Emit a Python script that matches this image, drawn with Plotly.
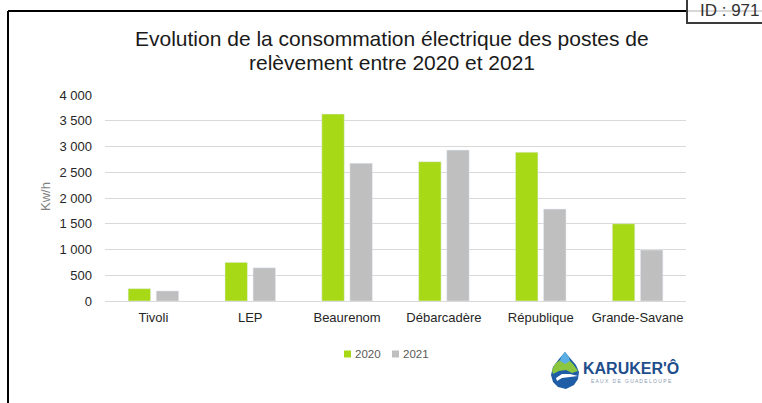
import plotly.graph_objects as go

categories = ["Tivoli", "LEP", "Beaurenom", "Débarcadère", "République", "Grande-Savane"]
values_2020 = [240, 750, 3630, 2705, 2890, 1500]
values_2021 = [195, 645, 2675, 2930, 1785, 990]
series_names = ["2020", "2021"]
series_colors = ["#a8d916", "#bfbfbf"]
y_ticks = [0, 500, 1000, 1500, 2000, 2500, 3000, 3500, 4000]
y_tick_labels = ["0", "500", "1 000", "1 500", "2 000", "2 500", "3 000", "3 500", "4 000"]

W, H = 762, 403
L, R, T, B = 105, 686, 95, 301

def px(x):
    return (x - L) / (R - L)

def py(y):
    return (B - y) / (B - T)

fig = go.Figure()
for name, vals, col in zip(series_names, [values_2020, values_2021], series_colors):
    fig.add_trace(go.Bar(name=name, x=categories, y=vals, marker_color=col))

font_family = "Liberation Sans, Arial, sans-serif"

shapes = []
# frame lines
shapes.append(dict(type="line", xref="paper", yref="paper", x0=px(8), x1=px(687), y0=py(11), y1=py(11),
                   line=dict(color="#000000", width=2)))
shapes.append(dict(type="line", xref="paper", yref="paper", x0=px(8), x1=px(8), y0=py(11), y1=py(405),
                   line=dict(color="#000000", width=2)))
# ID box
shapes.append(dict(type="rect", xref="paper", yref="paper", x0=px(687), x1=px(765), y0=py(-2), y1=py(23),
                   line=dict(color="#3a3a3a", width=2), fillcolor="#ffffff"))
shapes.append(dict(type="line", xref="paper", yref="paper", x0=px(688), x1=px(762), y0=py(11), y1=py(11),
                   line=dict(color="#b0b0b0", width=1)))

# logo drop
def pth(points):
    s = "M " + " L ".join(f"{px(x):.5f},{py(y):.5f}" for x, y in points) + " Z"
    return s

drop = [(565, 352), (570, 358), (576, 365), (579, 372), (578, 379), (574, 385), (566, 389), (558, 387),
        (553, 382), (551, 375), (553, 367), (559, 359)]
shapes.append(dict(type="path", xref="paper", yref="paper", path=pth(drop), fillcolor="#1f5ea6", line=dict(width=0)))
green = [(565, 356), (573, 364), (578, 371), (572, 373), (566, 370), (559, 371), (553, 374), (552, 370),
         (555, 364)]
shapes.append(dict(type="path", xref="paper", yref="paper", path=pth(green), fillcolor="#8cc63f", line=dict(width=0)))
lightb = [(565, 352), (569, 357), (570, 361), (565, 364), (560, 361), (561, 357)]
shapes.append(dict(type="path", xref="paper", yref="paper", path=pth(lightb), fillcolor="#5aaee3", line=dict(width=0)))
wave = [(556, 378), (562, 374), (570, 374), (578, 376), (570, 377), (562, 378), (557, 381)]
shapes.append(dict(type="path", xref="paper", yref="paper", path=pth(wave), fillcolor="#ffffff", line=dict(width=0)))

def ann(text, x, y, size, color, xanchor="center", **kw):
    return dict(text=text, xref="paper", yref="paper", x=px(x), y=py(y), showarrow=False,
                xanchor=xanchor, yanchor="middle", font=dict(family=font_family, size=size, color=color), **kw)

annotations = [
    ann("Evolution de la consommation électrique des postes de", 392, 39, 21, "#1a1a1a"),
    ann("relèvement entre 2020 et 2021", 392, 62, 21, "#1a1a1a"),
    ann("Kw/h", 45, 197, 13, "#808080", textangle=-90),
    ann("ID : 971", 698, 11, 17, "#333333", xanchor="left"),
    ann("<b>KARUKER'Ô</b>", 631, 368, 16, "#1f4e8c"),
    ann("E A U X   D E   G U A D E L O U P E", 631, 381, 5, "#8a9bb0"),
]

# manual legend
leg_x = [344, 392]
for name, col, lx in zip(series_names, series_colors, leg_x):
    shapes.append(dict(type="rect", xref="paper", yref="paper", x0=px(lx), x1=px(lx + 7), y0=py(350.5),
                       y1=py(357.5), fillcolor=col, line=dict(width=0)))
    annotations.append(ann(name, lx + 9, 354, 11.5, "#595959", xanchor="left"))

fig.update_layout(
    width=W, height=H,
    margin=dict(l=L, r=W - R, t=T, b=H - B, pad=0),
    paper_bgcolor="#ffffff", plot_bgcolor="#ffffff",
    barmode="group", bargap=0.42, bargroupgap=0.2,
    font=dict(family=font_family, size=13, color="#404040"),
    showlegend=False,
    shapes=shapes,
    annotations=annotations,
)
fig.update_xaxes(showgrid=False, showline=False, ticks="", tickfont=dict(size=13, color="#262626"),
                 ticklabelstandoff=7)
fig.update_yaxes(range=[0, 4000], tickvals=y_ticks, ticktext=y_tick_labels, showgrid=True,
                 gridcolor="#d9d9d9", gridwidth=1, zeroline=True, zerolinecolor="#d9d9d9", zerolinewidth=1,
                 showline=False, ticks="", tickfont=dict(size=13, color="#262626"), ticklabelstandoff=12)

fig.write_html("out.html", post_script="document.body.style.margin='0';",
               config={"displayModeBar": False})
